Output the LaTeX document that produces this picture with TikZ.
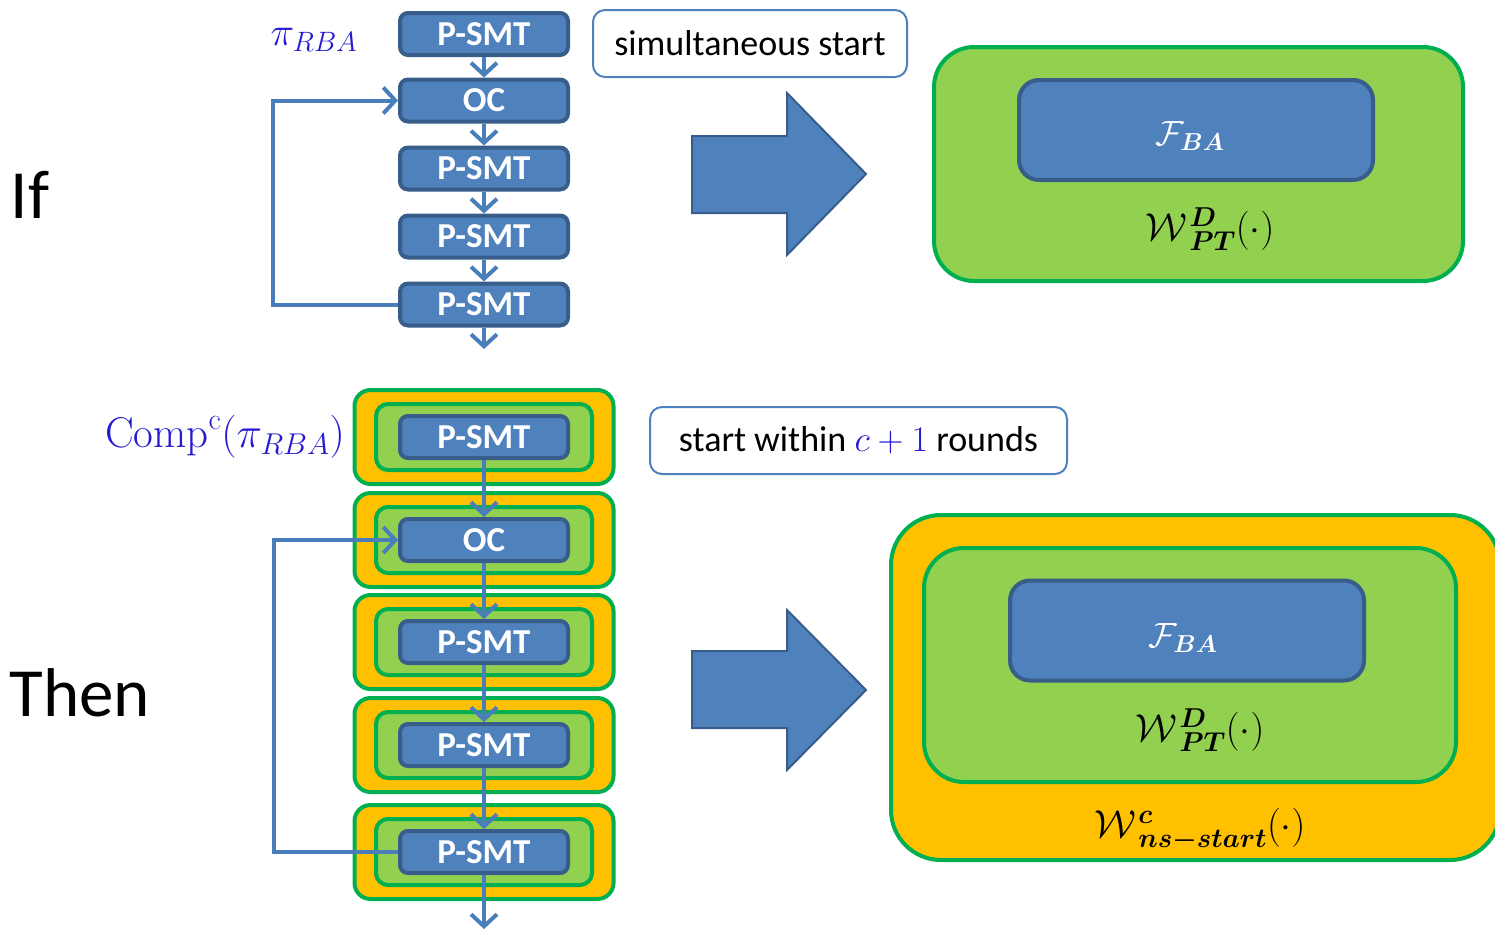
\RequirePackage{fix-cm}
\documentclass[tikz,border=0pt]{standalone}
\usepackage{amsmath}
\usepackage{fontspec}
\newfontfamily\calibri{Carlito}
\usetikzlibrary{arrows.meta}

\definecolor{boxblue}{HTML}{4F81BD}
\definecolor{boxedge}{HTML}{385D8A}
\definecolor{lime}{HTML}{92D050}
\definecolor{limeedge}{HTML}{00B050}
\definecolor{amber}{HTML}{FFC000}
\definecolor{flowblue}{HTML}{4A7EBB}
\definecolor{labelblue}{RGB}{36,26,210}

\tikzset{
  unit/.style={draw=boxedge, fill=boxblue, line width=4pt, rounded corners=8pt,
    minimum width=168pt, minimum height=42pt, inner sep=0pt, text=white,
    font={\calibri\bfseries\fontsize{35}{42}\selectfont}},
  shell/.style={draw=limeedge, fill=amber, line width=4pt, rounded corners=16pt,
    minimum width=259pt, minimum height=94pt, inner sep=0pt},
  core/.style={draw=limeedge, fill=lime, line width=4pt, rounded corners=12pt,
    minimum width=216pt, minimum height=66pt, inner sep=0pt},
  flow/.style={draw=flowblue, line width=4pt,
    -{Straight Barb[length=12pt,width=26pt,line width=4pt]}},
  bigarrow/.style={draw=boxedge, fill=boxblue, line width=2pt, line join=miter},
  note/.style={draw=boxblue, fill=white, line width=2pt, rounded corners=12pt,
    minimum height=67pt, inner sep=0pt, font={\calibri\fontsize{36}{42}\selectfont}},
  panel/.style={draw=limeedge, fill=lime, line width=4pt, rounded corners=40pt, inner sep=0pt},
  block/.style={draw=boxedge, fill=boxblue, line width=4pt, rounded corners=20pt,
    minimum width=354pt, minimum height=100pt, inner sep=0pt},
  mathlbl/.style={inner sep=0pt, font={\fontsize{39}{46}\selectfont}},
  whitelbl/.style={inner sep=0pt, text=white, font={\fontsize{35}{42}\selectfont}},
  sidelbl/.style={inner sep=0pt, text=labelblue, font={\fontsize{40}{46}\selectfont}},
  heading/.style={inner sep=0pt, font={\calibri\fontsize{69}{78}\selectfont}},
}

\begin{document}
\begin{tikzpicture}[x=1pt, y=-1pt]
\useasboundingbox (0,0) rectangle (1495,929);

% ---------- headings ----------
\node[heading] (if) at (30,195) {If};
\node[heading] (then) at (80,693) {Then};

% ---------- protocol pi_RBA ----------
\node[sidelbl] (pi) at (314,40) {$\pi_{RBA}$};
\node[unit] (t1) at (484,34) {P-SMT};
\node[unit] (t2) at (484,100.5) {OC};
\node[unit] (t3) at (484,168.5) {P-SMT};
\node[unit] (t4) at (484,236.5) {P-SMT};
\node[unit] (t5) at (484,304.5) {P-SMT};
\coordinate (tend) at (484,349);

\draw[flow] (t1) -- (t2);
\draw[flow] (t2) -- (t3);
\draw[flow] (t3) -- (t4);
\draw[flow] (t4) -- (t5);
\draw[flow] (t5) -- (tend);
\draw[flow] (t5.west) -- ++(-125,0) |- (t2.west);

\node[note, minimum width=314pt] (sim) at (750,43.5) {simultaneous start};

% ---------- compiled protocol ----------
\node[sidelbl, font={\fontsize{43}{50}\selectfont}] (comp) at (225,437)
  {$\mathrm{Comp}^{\mathrm{c}}(\pi_{RBA})$};
\foreach \i/\y/\t in {1/437/P-SMT, 2/540/OC, 3/642/P-SMT, 4/745/P-SMT, 5/852/P-SMT} {
  \node[shell] (o\i) at (484,\y) {};
  \node[core] (g\i) at (484,\y) {};
  \node[unit] (b\i) at (484,\y) {\t};
}
\coordinate (bend) at (484,929);

\draw[flow] (b1) -- (b2);
\draw[flow] (b2) -- (b3);
\draw[flow] (b3) -- (b4);
\draw[flow] (b4) -- (b5);
\draw[flow] (b5) -- (bend);
\draw[flow] (b5.west) -- ++(-124,0) |- (b2.west);

\node[note, minimum width=417pt] (within) at (858.5,440.5)
  {start within {\color{labelblue}$c+1$} rounds};

% ---------- implication arrows ----------
\draw[bigarrow] (692,136) -- (787,136) -- (787,93) -- (866,174) -- (787,255)
  -- (787,213) -- (692,213) -- cycle;
\draw[bigarrow] (692,651) -- (787,651) -- (787,610) -- (866,690) -- (787,770)
  -- (787,728) -- (692,728) -- cycle;

% ---------- functionality in the upper world ----------
\node[panel, minimum width=529pt, minimum height=234pt] (wpt1) at (1198.5,164) {};
\node[block] (fba1) at (1196,130) {};
\node[whitelbl] (fl1) at (1190,136) {$\mathcal{F}_{\boldsymbol{BA}}$};
\node[mathlbl] (wl1) at (1210,229)
  {$\mathcal{W}\mkern1mu^{\boldsymbol{D}}_{\boldsymbol{PT}}(\cdot)$};

% ---------- functionality in the lower world ----------
\node[panel, fill=amber, rounded corners=50pt, minimum width=609pt, minimum height=345pt]
  (wns) at (1195.5,687.5) {};
\node[panel, minimum width=532pt, minimum height=234pt] (wpt2) at (1190,665) {};
\node[block] (fba2) at (1187,630.5) {};
\node[whitelbl] (fl2) at (1183,638) {$\mathcal{F}_{\boldsymbol{BA}}$};
\node[mathlbl] (wl2) at (1200,730)
  {$\mathcal{W}\mkern1mu^{\boldsymbol{D}}_{\boldsymbol{PT}}(\cdot)$};
\node[mathlbl] (wl3) at (1200,830)
  {$\mathcal{W}\mkern1mu^{\boldsymbol{c}}_{\boldsymbol{ns-start}}(\cdot)$};
\end{tikzpicture}
\end{document}
